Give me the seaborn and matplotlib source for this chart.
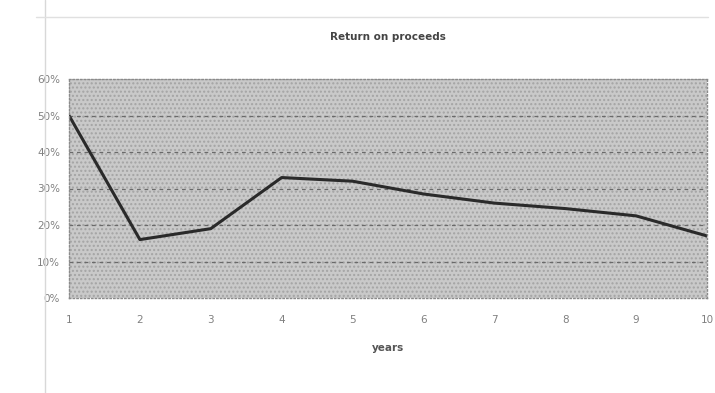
import matplotlib
matplotlib.use("Agg")
import matplotlib.pyplot as plt
import seaborn as sns
import pandas as pd
from matplotlib.ticker import PercentFormatter
from matplotlib.lines import Line2D

years = [1, 2, 3, 4, 5, 6, 7, 8, 9, 10]
returns = [50, 16, 19, 33, 32, 28.5, 26, 24.5, 22.5, 17]
yticks = [0, 10, 20, 30, 40, 50, 60]

df = pd.DataFrame({"years": years, "return": returns})

sns.set_theme(style="white")
plt.rcParams['font.family'] = ['DejaVu Sans']

fig = plt.figure(figsize=(7.15, 3.93), dpi=100)
ax = fig.add_axes([69/715, 1-298/393, (707-69)/715, (298-79)/393])
ax.set_facecolor("#c9c9c9")
ax.patch.set_hatch("....")
ax.patch.set_edgecolor("#a4a4a4")
ax.patch.set_linewidth(0)

sns.lineplot(data=df, x="years", y="return", ax=ax, color="#2a2a2a", linewidth=2.2)

ax.set_xlim(1, 10)
ax.set_ylim(0, 60)
ax.set_xticks(years)
ax.set_yticks(yticks)
ax.yaxis.set_major_formatter(PercentFormatter(decimals=0))
for v in yticks[1:-1]:
    ax.axhline(v, color="#6a6a6a", linestyle=(0, (3, 3)), linewidth=0.9, zorder=1)

for s in ax.spines.values():
    s.set_color("#8a8a8a")
    s.set_linestyle(":")
    s.set_linewidth(1.0)

ax.tick_params(axis="both", colors="#6a6a6a", labelsize=7.5, length=3, width=0.8,
               direction="out", labelcolor="#808080")
ax.tick_params(axis="x", pad=9)
ax.set_xlabel("years", fontsize=7.5, fontweight="bold", color="#555555", labelpad=13)
ax.set_ylabel("")
ax.set_title("Return on proceeds", fontsize=7.5, fontweight="bold", color="#444444", pad=28)

fig.add_artist(Line2D([45/715, 45/715], [0, 1], color="#d8d8d8", linewidth=1))
fig.add_artist(Line2D([0.05, 0.99], [1-17/393, 1-17/393], color="#e0e0e0", linewidth=1))

fig.savefig("out.png", dpi=100)
